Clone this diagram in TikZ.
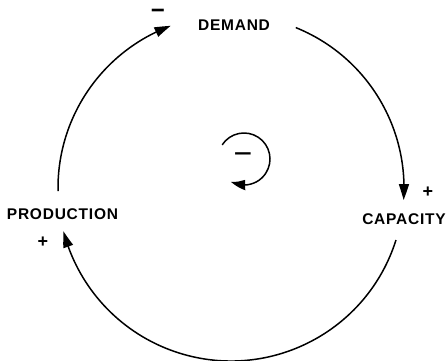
\documentclass[tikz,border=0pt]{standalone}
\usepackage{fontspec}
\setmainfont{Liberation Sans}
\usetikzlibrary{arrows.meta,bending}
\begin{document}
\begin{tikzpicture}[x=1pt,y=1pt,
  lbl/.style={font=\fontsize{15.5}{16}\selectfont\bfseries\addfontfeatures{LetterSpace=5}, inner sep=0pt},
  sgn/.style={font=\fontsize{18}{18}\selectfont\bfseries, inner sep=0pt},
  link/.style={line width=1.5pt, -{Triangle[length=16pt,width=10pt,bend]}},
]
\useasboundingbox (0,0) rectangle (448,-360);
% variables
\node[lbl] (demand) at (234,-25.5) {DEMAND};
\node[lbl] (capacity) at (404,-219) {CAPACITY};
\node[lbl] (production) at (62.5,-214) {PRODUCTION};
% loop geometry
\coordinate (O) at (231,-188);
\coordinate (pd0) at ([shift={(O)}]181:173);
\coordinate (dc0) at ([shift={(O)}]68:173);
\coordinate (cp0) at ([shift={(O)}]-17.5:173);
% connectors
\draw[link] (pd0) arc[start angle=181, end angle=110.4, radius=173pt];
\draw[link] (dc0) arc[start angle=68, end angle=-4, radius=173pt];
\draw[link] (cp0) arc[start angle=-17.5, end angle=-165.5, radius=173pt];
% polarity signs
\node[sgn, font=\fontsize{24}{24}\selectfont\bfseries, text height=9pt, text depth=0pt] (s1) at (158,-13.7) {−};
\node[sgn] (s2) at (428,-192) {+};
\node[sgn] (s3) at (43,-242) {+};
% loop indicator
\coordinate (L) at (244,-159);
\coordinate (l0) at ([shift={(L)}]147:26);
\draw[line width=1.5pt, -{Triangle[length=15pt,width=10pt,bend]}] (l0) arc[start angle=147, end angle=-120, radius=26pt];
\node[font=\fontsize{32}{32}\selectfont, inner sep=0pt] (lm) at (243,-159) {−};
\end{tikzpicture}
\end{document}
